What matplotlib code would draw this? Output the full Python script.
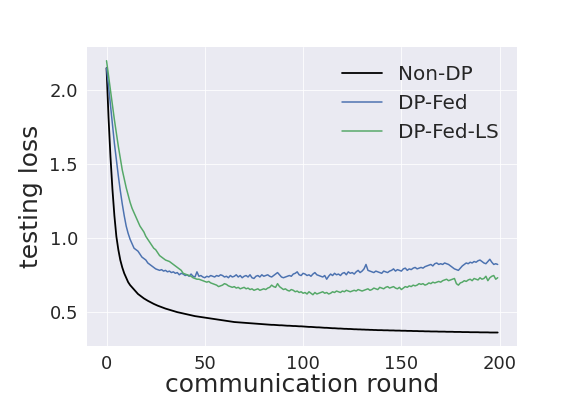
import numpy as np
import matplotlib
matplotlib.use("Agg")
import matplotlib.pyplot as plt

plt.style.use("seaborn-v0_8-darkgrid")
plt.rcParams["font.family"] = ["DejaVu Sans"]

# 通信轮次 0..199
rounds = np.arange(200)

non_dp = [
    2.15, 1.82, 1.55, 1.33, 1.15, 1.01, 0.92, 0.85, 0.80, 0.76,
    0.73, 0.70, 0.68, 0.665, 0.65, 0.635, 0.62, 0.61, 0.60, 0.59,
    0.582, 0.574, 0.567, 0.560, 0.553, 0.547, 0.541, 0.536, 0.531, 0.526,
    0.521, 0.517, 0.513, 0.509, 0.505, 0.501, 0.497, 0.494, 0.491, 0.488,
    0.485, 0.482, 0.479, 0.476, 0.473, 0.470, 0.468, 0.466, 0.464, 0.462,
    0.460, 0.458, 0.456, 0.454, 0.452, 0.450, 0.448, 0.446, 0.444, 0.442,
    0.440, 0.438, 0.436, 0.434, 0.432, 0.430, 0.429, 0.428, 0.427, 0.426,
    0.425, 0.424, 0.423, 0.422, 0.421, 0.420, 0.419, 0.418, 0.417, 0.416,
    0.415, 0.414, 0.413, 0.412, 0.411, 0.411, 0.410, 0.409, 0.408, 0.408,
    0.407, 0.406, 0.405, 0.405, 0.404, 0.403, 0.403, 0.402, 0.401, 0.401,
    0.400, 0.399, 0.398, 0.397, 0.397, 0.396, 0.395, 0.394, 0.394, 0.393,
    0.392, 0.391, 0.391, 0.390, 0.389, 0.388, 0.388, 0.387, 0.386, 0.386,
    0.385, 0.384, 0.384, 0.383, 0.383, 0.382, 0.381, 0.381, 0.380, 0.380,
    0.379, 0.379, 0.378, 0.378, 0.377, 0.377, 0.376, 0.376, 0.375, 0.375,
    0.375, 0.374, 0.374, 0.374, 0.373, 0.373, 0.373, 0.372, 0.372, 0.372,
    0.371, 0.371, 0.371, 0.370, 0.370, 0.370, 0.369, 0.369, 0.369, 0.368,
    0.368, 0.368, 0.367, 0.367, 0.367, 0.366, 0.366, 0.366, 0.366, 0.365,
    0.365, 0.365, 0.365, 0.364, 0.364, 0.364, 0.364, 0.363, 0.363, 0.363,
    0.363, 0.362, 0.362, 0.362, 0.362, 0.361, 0.361, 0.361, 0.361, 0.361,
    0.360, 0.360, 0.360, 0.360, 0.360, 0.359, 0.359, 0.359, 0.359, 0.359,
]

dp_fed = [
    2.15, 2.03, 1.90, 1.77, 1.64, 1.53, 1.42, 1.32, 1.23, 1.15,
    1.08, 1.03, 0.99, 0.96, 0.93, 0.92, 0.91, 0.89, 0.87, 0.86,
    0.85, 0.83, 0.82, 0.81, 0.80, 0.79, 0.785, 0.78, 0.785, 0.775,
    0.78, 0.77, 0.775, 0.765, 0.77, 0.76, 0.765, 0.75, 0.76, 0.755,
    0.745, 0.75, 0.74, 0.755, 0.74, 0.735, 0.77, 0.74, 0.745, 0.735,
    0.73, 0.74, 0.735, 0.745, 0.74, 0.735, 0.745, 0.74, 0.75, 0.745,
    0.735, 0.74, 0.73, 0.745, 0.735, 0.74, 0.75, 0.735, 0.745, 0.73,
    0.74, 0.745, 0.735, 0.75, 0.73, 0.725, 0.74, 0.745, 0.735, 0.75,
    0.74, 0.745, 0.75, 0.74, 0.735, 0.745, 0.755, 0.765, 0.75, 0.735,
    0.73, 0.735, 0.74, 0.745, 0.74, 0.755, 0.76, 0.77, 0.75, 0.745,
    0.76, 0.755, 0.745, 0.75, 0.74, 0.755, 0.765, 0.75, 0.745, 0.74,
    0.735, 0.745, 0.72, 0.74, 0.755, 0.745, 0.76, 0.75, 0.755, 0.745,
    0.76, 0.765, 0.75, 0.77, 0.76, 0.765, 0.755, 0.77, 0.78, 0.765,
    0.775, 0.79, 0.82, 0.78, 0.775, 0.77, 0.765, 0.775, 0.77, 0.765,
    0.76, 0.775, 0.77, 0.765, 0.775, 0.78, 0.79, 0.775, 0.785, 0.78,
    0.775, 0.79, 0.795, 0.78, 0.79, 0.785, 0.795, 0.80, 0.79, 0.795,
    0.80, 0.795, 0.805, 0.81, 0.815, 0.82, 0.81, 0.825, 0.83, 0.82,
    0.825, 0.82, 0.83, 0.825, 0.82, 0.81, 0.80, 0.79, 0.785, 0.78,
    0.795, 0.81, 0.82, 0.83, 0.825, 0.835, 0.83, 0.84, 0.835, 0.845,
    0.85, 0.84, 0.83, 0.825, 0.84, 0.855, 0.835, 0.82, 0.825, 0.82,
]

dp_fed_ls = [
    2.20, 2.10, 2.00, 1.90, 1.80, 1.71, 1.62, 1.54, 1.46, 1.40,
    1.34, 1.29, 1.24, 1.20, 1.17, 1.14, 1.11, 1.08, 1.06, 1.04,
    1.01, 0.99, 0.97, 0.95, 0.93, 0.92, 0.90, 0.88, 0.87, 0.86,
    0.85, 0.845, 0.84, 0.83, 0.82, 0.81, 0.80, 0.79, 0.78, 0.76,
    0.755, 0.75, 0.745, 0.74, 0.73, 0.725, 0.72, 0.72, 0.715, 0.71,
    0.705, 0.70, 0.705, 0.695, 0.69, 0.685, 0.68, 0.67, 0.675, 0.68,
    0.69, 0.685, 0.675, 0.67, 0.665, 0.67, 0.66, 0.665, 0.655, 0.66,
    0.665, 0.655, 0.66, 0.65, 0.655, 0.645, 0.65, 0.655, 0.645, 0.65,
    0.655, 0.65, 0.66, 0.665, 0.68, 0.67, 0.665, 0.69, 0.67, 0.66,
    0.65, 0.655, 0.645, 0.64, 0.65, 0.645, 0.635, 0.64, 0.63, 0.635,
    0.625, 0.63, 0.62, 0.635, 0.625, 0.615, 0.63, 0.62, 0.625, 0.63,
    0.635, 0.625, 0.63, 0.62, 0.625, 0.635, 0.63, 0.64, 0.635, 0.63,
    0.64, 0.635, 0.645, 0.64, 0.635, 0.64, 0.645, 0.64, 0.65, 0.645,
    0.64, 0.645, 0.65, 0.655, 0.645, 0.65, 0.66, 0.655, 0.65, 0.665,
    0.66, 0.655, 0.665, 0.67, 0.66, 0.665, 0.67, 0.66, 0.655, 0.665,
    0.65, 0.66, 0.67, 0.665, 0.675, 0.67, 0.68, 0.675, 0.68, 0.69,
    0.685, 0.69, 0.68, 0.685, 0.695, 0.69, 0.70, 0.695, 0.70, 0.705,
    0.70, 0.71, 0.715, 0.72, 0.71, 0.715, 0.72, 0.725, 0.69, 0.68,
    0.695, 0.70, 0.71, 0.705, 0.715, 0.72, 0.71, 0.725, 0.72, 0.715,
    0.73, 0.72, 0.725, 0.74, 0.71, 0.73, 0.74, 0.745, 0.72, 0.73,
]

fig = plt.figure(figsize=(8, 5.5), dpi=72)
ax = fig.add_axes([0.151, 0.126, 0.747, 0.755])

ax.plot(rounds, non_dp, color="black", lw=1.8, label="Non-DP")
ax.plot(rounds, dp_fed, color="#4C72B0", lw=1.5, label="DP-Fed")
ax.plot(rounds, dp_fed_ls, color="#55A868", lw=1.5, label="DP-Fed-LS")

ax.set_xticks([0, 50, 100, 150, 200])
ax.set_yticks([0.5, 1.0, 1.5, 2.0])
ax.tick_params(axis="x", labelsize=18, pad=9)
ax.tick_params(axis="y", labelsize=18, pad=9)
ax.set_xlabel("communication round", fontsize=25, labelpad=0)
ax.set_ylabel("testing loss", fontsize=25, labelpad=6)
ax.legend(loc="upper right", fontsize=20, frameon=False)

fig.savefig("out.png", dpi=72)
